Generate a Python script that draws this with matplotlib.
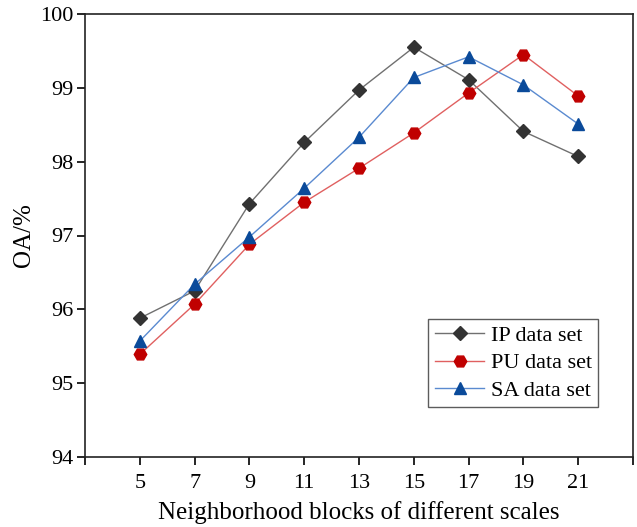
import matplotlib
matplotlib.use("Agg")
import matplotlib.pyplot as plt

scales = [5, 7, 9, 11, 13, 15, 17, 19, 21]
ip_oa = [95.88, 96.25, 97.43, 98.26, 98.97, 99.55, 99.11, 98.41, 98.07]
pu_oa = [95.39, 96.07, 96.88, 97.45, 97.91, 98.39, 98.93, 99.45, 98.89]
sa_oa = [95.57, 96.34, 96.98, 97.64, 98.33, 99.14, 99.42, 99.04, 98.51]
labels = ["IP data set", "PU data set", "SA data set"]

plt.rcParams["font.family"] = ["Liberation Serif", "DejaVu Serif"]

fig = plt.figure(figsize=(6.37, 5.27), dpi=100)
ax = fig.add_axes([85 / 637, 1 - 457 / 527, 548 / 637, 443 / 527])

ax.plot(scales, ip_oa, color="#707070", lw=1.0, marker="D", ms=7,
        mfc="#333333", mec="#333333", label=labels[0])
ax.plot(scales, pu_oa, color="#e06060", lw=1.0, marker="H", ms=9,
        mfc="#c00000", mec="#c00000", label=labels[1])
ax.plot(scales, sa_oa, color="#5a8ad0", lw=1.0, marker="^", ms=9,
        mfc="#0a4a9a", mec="#0a4a9a", label=labels[2])

ax.set_xlim(3, 23)
ax.set_ylim(94, 100)
ax.set_xticks(range(3, 24, 2))
ax.set_xticklabels([""] + [str(s) for s in scales] + [""])
ax.set_yticks(range(94, 101))
ax.tick_params(direction="out", length=6, width=1.2, labelsize=16)
ax.tick_params(axis="x", pad=6)
ax.tick_params(axis="y", pad=2)
for sp in ax.spines.values():
    sp.set_linewidth(1.2)
    sp.set_color("#222222")

ax.set_xlabel("Neighborhood blocks of different scales", fontsize=18, labelpad=6)
ax.set_ylabel("OA/%", fontsize=18, labelpad=4)

leg = ax.legend(loc="lower right", bbox_to_anchor=(0.937, 0.112), fontsize=16,
                frameon=True, fancybox=False, edgecolor="#333333",
                handlelength=2.2, borderpad=0.3, labelspacing=0.3,
                handletextpad=0.3, borderaxespad=0)
leg.get_frame().set_linewidth(1.0)

fig.savefig("out.png", dpi=100)
